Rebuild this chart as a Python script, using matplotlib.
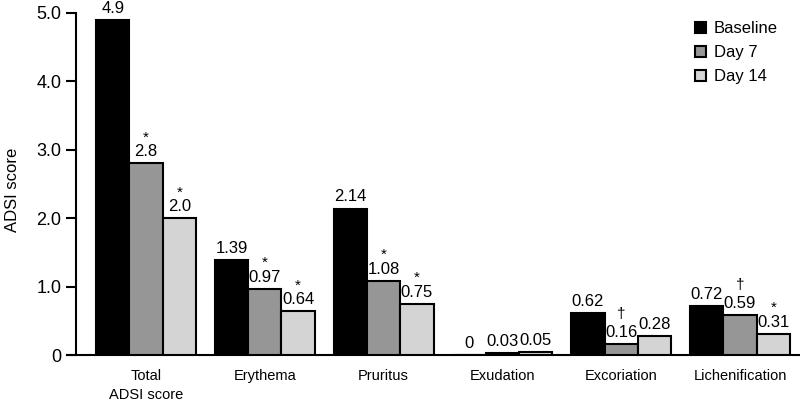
import matplotlib
matplotlib.use("Agg")
import matplotlib.pyplot as plt
import numpy as np

categories = ["Total\nADSI score", "Erythema", "Pruritus", "Exudation", "Excoriation", "Lichenification"]
series_names = ["Baseline", "Day 7", "Day 14"]
baseline = [4.9, 1.39, 2.14, 0, 0.62, 0.72]
day7 = [2.8, 0.97, 1.08, 0.03, 0.16, 0.59]
day14 = [2.0, 0.64, 0.75, 0.05, 0.28, 0.31]
labels_baseline = ["4.9", "1.39", "2.14", "0", "0.62", "0.72"]
labels_day7 = ["2.8", "0.97", "1.08", "0.03", "0.16", "0.59"]
labels_day14 = ["2.0", "0.64", "0.75", "0.05", "0.28", "0.31"]
marks_day7 = ["*", "*", "*", "", "\u2020", "\u2020"]
marks_day14 = ["*", "*", "*", "", "", "*"]
yticks = [0, 1.0, 2.0, 3.0, 4.0, 5.0]
ytick_labels = ["0", "1.0", "2.0", "3.0", "4.0", "5.0"]

colors = ["#000000", "#969696", "#d4d4d4"]

plt.rcParams['font.family'] = ['Liberation Sans', 'DejaVu Sans']

fig = plt.figure(figsize=(8.0, 4.03), dpi=100)
ax = fig.add_axes([67 / 800, 0.119, 733 / 800, 0.849])

x = np.arange(len(categories))
w = 0.28
series = [baseline, day7, day14]
lbls = [labels_baseline, labels_day7, labels_day14]
marks = [[""] * 6, marks_day7, marks_day14]
for i, (vals, lab, mk) in enumerate(zip(series, lbls, marks)):
    pos = x + (i - 1) * w
    ax.bar(pos, vals, width=w, color=colors[i], edgecolor="black", linewidth=1.5,
           label=series_names[i], zorder=3)
    for p, v, t, m in zip(pos, vals, lab, mk):
        ax.text(p, v + 0.06, t, ha="center", va="bottom", fontsize=12, clip_on=False)
        if m == "*":
            ax.text(p, v + 0.32, m, ha="center", va="baseline", fontsize=11, clip_on=False)
        elif m:
            ax.text(p, v + 0.38, m, ha="center", va="baseline", fontsize=11, clip_on=False)

ax.set_xlim(-0.665, 5.505)
ax.set_ylim(0, 5.0)
ax.spines['top'].set_visible(False)
ax.spines['right'].set_visible(False)
ax.spines['left'].set_position(('data', -0.59))
ax.spines['left'].set_linewidth(1.5)
ax.spines['bottom'].set_linewidth(1.5)
ax.set_yticks(yticks)
ax.set_yticklabels(ytick_labels, fontsize=13)
ax.tick_params(axis='y', length=7, width=1.5, direction='out')
ax.set_xticks(x)
ax.set_xticklabels(categories, fontsize=10.5, linespacing=1.5)
ax.tick_params(axis='x', length=0, pad=10)
fig.text(0.016, 0.53, "ADSI score", rotation=90, ha="center", va="center", fontsize=12)

leg = ax.legend(loc="upper left", bbox_to_anchor=(0.836, 1.02), frameon=False, fontsize=12,
                handlelength=0.65, handleheight=0.65, handletextpad=0.5, labelspacing=0.55)
for h in leg.legend_handles:
    h.set_linewidth(1.5)

fig.savefig("out.png", dpi=100)
